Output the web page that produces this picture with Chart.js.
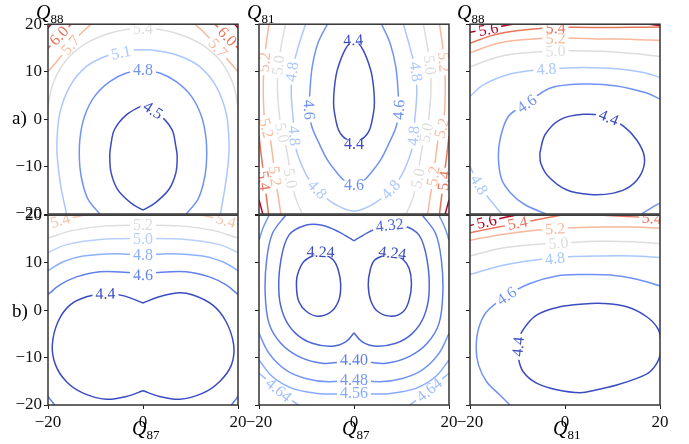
<!DOCTYPE html>
<html><head><meta charset="utf-8">
<script src="https://cdn.jsdelivr.net/npm/chart.js@4.4.1/dist/chart.umd.min.js"></script>
<style>
html,body{margin:0;padding:0;background:#fff;}
body{width:689px;height:444px;overflow:hidden;position:relative;font-family:'Liberation Serif',serif;}
canvas{position:absolute;}
.q{position:absolute;font-family:'Liberation Serif',serif;font-size:20px;line-height:20px;color:#000;white-space:nowrap;}
.q sub{font-size:13px;line-height:0;vertical-align:-4px;font-style:normal;}
.r{position:absolute;font-family:'Liberation Serif',serif;font-size:19px;line-height:19px;color:#000;}
</style></head><body>
<canvas id="c_a1"></canvas><canvas id="c_a2"></canvas><canvas id="c_a3"></canvas>
<canvas id="c_b1"></canvas><canvas id="c_b2"></canvas><canvas id="c_b3"></canvas>
<div class="q" style="left:36px;top:2px"><i>Q</i><sub>88</sub></div>
<div class="q" style="left:247px;top:2px"><i>Q</i><sub>81</sub></div>
<div class="q" style="left:457px;top:2px"><i>Q</i><sub>88</sub></div>
<div class="q" style="left:132px;top:418px"><i>Q</i><sub>87</sub></div>
<div class="q" style="left:342px;top:418px"><i>Q</i><sub>87</sub></div>
<div class="q" style="left:553px;top:418px"><i>Q</i><sub>81</sub></div>
<div class="r" style="left:12px;top:108px">a)</div>
<div class="r" style="left:12px;top:301px">b)</div>
<script>
// ---------------- DATA ----------------
const xTicks = [-20, 0, 20];
const yTicks = [-20, -10, 0, 10, 20];

// Panel a1 : Q87 (x) vs Q88 (y)
const a1_45L = [[0,3],[-3.5,0.9],[-6.0,-2.2],[-6.8,-5.7],[-7.0,-7.9],[-6.7,-11.4],[-5.3,-14.9],[-2.5,-17.7],[0,-19.2]];
const a1_45R = [[0,-19.2],[2.5,-17.7],[5.4,-14.9],[6.9,-11.4],[7.2,-7.9],[6.9,-5.7],[6.1,-2.2],[3.5,0.9],[0,3]];
const a1_48 = [[-9.1,-20],[-11.5,-17],[-12.6,-14],[-13.3,-10],[-13.3,-4.4],[-12.3,0.6],[-10.2,4.8],[-7.0,7.9],[-3.5,9.7],[0,10.3],[3.5,9.7],[7.0,7.9],[10.2,4.8],[12.3,0.6],[13.3,-4.4],[13.3,-10],[12.6,-14],[11.5,-17],[9.1,-20]];
const a1_51 = [[-16.1,-20],[-17.3,-14.2],[-18.0,-8.6],[-18.1,-4.4],[-17.5,1.3],[-15.4,6.9],[-11.9,11.1],[-7.7,13.3],[-3.5,14.3],[0,14.6],[3.5,14.3],[7.7,13.3],[11.9,11.1],[15.4,6.9],[17.5,1.3],[18.1,-4.4],[18.0,-8.6],[17.3,-14.2],[16.3,-20]];
const a1_54 = [[-20,2.7],[-18.9,7.6],[-16.1,12.5],[-11.9,16.0],[-7.0,18.1],[-3.5,18.9],[0,19.1],[3.5,18.9],[7.0,18.1],[11.9,16.0],[16.1,12.5],[18.9,7.6],[20,2.7]];
const a1_57L = [[-20,10.0],[-18.2,12.1],[-15.3,15.6],[-12.6,18.5],[-10.9,20]];
const a1_57R = [[10.9,20],[12.6,18.5],[15.3,15.6],[18.2,12.1],[20,10.0]];
const a1_60L = [[-20,14.9],[-17.7,17.6],[-15.1,20]];
const a1_60R = [[15.1,20],[17.7,17.6],[20,14.9]];
const a1_63L = [[-20,19.2],[-19.3,20]];
const a1_63R = [[19.3,20],[20,19.2]];
const a1_labels = [['6.0',-17.7,17.6],['5.7',-15.3,15.6],['5.4',0,19.1],['5.1',-4.6,14.0],['4.8',0,10.3],['4.5',2.2,2.0],['5.7',15.8,15.0],['6.0',17.7,17.4]];

// Panel a2 : Q87 (x) vs Q81 (y)
const a2_44L = [[0,17.2],[-1.9,14.6],[-3.5,10.4],[-4.1,6.9],[-4.3,3.5],[-4.1,1.3],[-3.3,-2.2],[-2.2,-3.8],[0,-5.2]];
const a2_44R = [[0,-5.2],[2.2,-3.8],[3.3,-2.2],[4.1,1.3],[4.3,3.5],[4.1,6.9],[3.5,10.4],[1.9,14.6],[0,17.2]];
const a2_46 = [[-5.6,20],[-7.6,16],[-8.8,11],[-9.3,5.5],[-9.4,2.0],[-8.9,-1.5],[-7.5,-4.8],[-5.6,-8.6],[-3.5,-11.4],[-2.0,-13.0],[0,-13.8],[2.0,-13.0],[3.5,-11.4],[5.6,-8.6],[7.5,-4.8],[8.9,-1.5],[9.4,2.0],[9.3,5.5],[8.8,11],[7.6,16],[5.8,20]];
const a2_48 = [[-10.2,20],[-11.8,15],[-13.0,10],[-13.2,5],[-12.8,0],[-12.3,-5.8],[-10.9,-10.0],[-9.3,-13.0],[-6.7,-15.9],[-3.9,-18.0],[0,-19.4],[3.9,-18.0],[6.7,-15.9],[9.3,-13.0],[10.9,-10.0],[12.3,-5.8],[12.8,0],[13.2,5],[13.0,10],[11.8,15],[10.4,20]];
const a2_50L = [[-14.4,20],[-15.4,15],[-16.0,10],[-16.1,6],[-15.6,0],[-14.6,-4.4],[-13.9,-8],[-13.3,-12],[-12.3,-16.6],[-10.9,-20]];
const a2_50R = [[14.6,20],[15.5,15],[16.1,10],[16.2,6],[15.7,0],[14.7,-4.4],[14.0,-8],[13.4,-12],[12.4,-16.6],[11.0,-20]];
const a2_52L = [[-17.9,20],[-18.6,15],[-19.0,10],[-19.1,6],[-18.8,0],[-17.6,-4.4],[-17.1,-8],[-16.6,-12],[-16.0,-16],[-15.4,-20]];
const a2_52R = [[18.0,20],[18.7,15],[19.1,10],[19.2,6],[18.9,0],[17.7,-4.4],[17.2,-8],[16.7,-12],[16.1,-16],[15.5,-20]];
const a2_54L = [[-20,-3.5],[-19.6,-7],[-19.1,-11],[-18.6,-15],[-18.0,-20]];
const a2_54R = [[20,-3.5],[19.6,-7],[19.1,-11],[18.6,-15],[18.0,-20]];
const a2_56L = [[-20,-17],[-19.2,-20]];
const a2_56R = [[20,-17],[19.2,-20]];
const a2_labels = [['4.4',0,16.6],['4.4',0,-5.2],['4.6',-9.4,2.0],['4.6',9.4,2.0],['4.6',0,-13.8],
  ['4.8',-13.2,10.0],['4.8',13.2,10.0],['4.8',-12.5,-3.5],['4.8',12.5,-3.5],['4.8',-7.7,-14.8],['4.8',7.7,-14.8],
  ['5.0',-16.1,11.4],['5.0',16.1,11.4],['5.0',-15.3,-2.9],['5.0',15.3,-2.9],['5.0',-13.5,-12.5],['5.0',13.5,-12.5],
  ['5.2',-19.0,12.0],['5.2',19.0,12.0],['5.2',-18.5,-1.9],['5.2',18.5,-1.9],['5.2',-16.6,-12.0],['5.2',16.6,-12.0],
  ['5.4',-19.0,-13.0],['5.4',19.0,-13.0]];

// Panel a3 : Q81 (x) vs Q88 (y)
const a3_44 = [[-5.3,-7.2],[-4.2,-3.3],[-1.0,-0.1],[3.9,1.0],[8.5,0.6],[12.3,-1.5],[15.1,-4.4],[16.7,-7.9],[16.1,-11.4],[13.7,-14.2],[10.2,-15.6],[5.3,-15.9],[0.3,-14.9],[-3.5,-12.1],[-5.1,-9.3],[-5.3,-7.2]];
const a3_46 = [[20,4.2],[17.2,5.5],[10.9,7.0],[3.9,7.4],[-3.2,6.5],[-8.1,3.2],[-11.9,0.6],[-13.7,-4.4],[-14.0,-8.6],[-13.3,-12.8],[-11.5,-15.5],[-8.5,-18],[-4.0,-20]];
const a3_46c = [[16.1,-20],[18.2,-18.7],[20,-17.7]];
const a3_48 = [[-20,4.8],[-17.2,7.2],[-11.6,9.5],[-5,10.5],[-1.0,10.7],[3.9,10.9],[10.9,10.6],[16.5,9.8],[20,8.8]];
const a3_48c = [[-20,-10],[-17.9,-14.2],[-15.8,-17],[-13.3,-20]];
const a3_50 = [[-20,11.0],[-13.7,13.2],[-6.7,14.1],[0,14.4],[7.4,14.3],[14.4,13.8],[20,13.2]];
const a3_52 = [[-20,14.0],[-13.7,16.1],[-6.7,16.9],[0,17.1],[7.4,16.9],[14.4,16.8],[20,16.6]];
const a3_54 = [[-20,16.0],[-15.1,17.7],[-10.2,18.6],[-4,19.2],[2,19.35],[7.4,19.3],[14,19.35],[20,19.4]];
const a3_56 = [[-20,18.3],[-16.1,19.1],[-11.0,20]];
const a3_56c = [[17.9,20],[20,19.7]];
const a3_labels = [['5.6',-16.1,18.8],['5.4',-2.0,19.2],['5.2',-2.0,17.0],['5.0',-2.0,14.4],['4.8',-3.9,10.6],['4.6',-8.1,3.3],['4.4',9.3,0.5],['4.8',-18.0,-13.8]];

// Panel b1 : Q87 (x) vs Q88 (y)
const b1_44R = [[0,1.5],[2.8,2.6],[7.0,3.6],[10.5,3.2],[14.7,1.05],[17.5,-2.45],[19.1,-7.4],[18.6,-11.6],[16.1,-15.1],[12.6,-17.5],[7.7,-18.8],[3.5,-18.2],[0,-17.0]];
const b1_44L = [[0,-17.0],[-3.5,-18.2],[-7.7,-18.8],[-12.6,-17.5],[-16.1,-15.1],[-18.4,-11.6],[-19.1,-7.4],[-17.9,-2.45],[-15.4,1.05],[-11.9,2.8],[-7.9,3.5],[-4.0,3.0],[0,1.5]];
const b1_46 = [[-20,3.3],[-17.5,5.3],[-14.0,7.0],[-9.1,8.1],[-3.0,7.9],[0,7.4],[3.0,7.9],[9.1,8.1],[14.0,7.0],[17.5,5.3],[20,3.3]];
const b1_46L = [[-20,-18.2],[-18.6,-20]];
const b1_46R = [[18.6,-20],[20,-18.2]];
const b1_48 = [[-20,8.3],[-16.8,10.2],[-12.6,11.4],[-5.6,11.9],[0,11.6],[5.6,11.9],[12.6,11.4],[16.8,10.2],[20,8.3]];
const b1_50 = [[-20,12.1],[-16.1,13.8],[-9.1,14.9],[0,15.1],[9.1,14.9],[16.1,13.8],[20,12.1]];
const b1_52 = [[-20,15.2],[-14.7,16.8],[-7.7,17.75],[0,17.9],[7.7,17.75],[14.7,16.8],[20,15.2]];
const b1_54L = [[-20,18.0],[-16,19.2],[-12.5,20]];
const b1_54R = [[12.5,20],[16,19.2],[20,18.0]];
const b1_labels = [['5.2',0,17.9],['5.0',0,15.1],['4.8',0,11.6],['4.6',0,7.5],['4.4',-7.9,3.5],['5.4',-17.5,19.0],['5.4',17.5,19.0]];

// Panel b2 : Q87 (x) vs Q81 (y)
const b2_424L = [[-7.0,12.3],[-10.5,10.3],[-11.9,7.4],[-12.1,4.6],[-11.6,1.75],[-10.0,-0.3],[-7.6,-1.3],[-4.9,-0.4],[-3.2,2.1],[-2.8,5.3],[-3.3,8.4],[-4.4,10.6],[-7.0,12.3]];
const b2_424R = [[8.1,12.1],[4.4,10.6],[3.4,8.4],[3.0,5.3],[3.5,2.1],[5.0,-0.3],[7.9,-1.3],[10.4,-0.3],[11.6,2.1],[12.1,5.6],[11.6,8.8],[10.4,10.6],[8.1,12.1]];
const b2_432L = [[0,14.6],[-3.2,16.5],[-6.7,17.9],[-10.2,17.9],[-13.7,15.8],[-15.4,10.5],[-15.8,3.5],[-14.7,-1.4],[-12.3,-4.9],[-8.8,-7.0],[-4.6,-7.6],[-1.75,-6.7],[0,-4.8]];
const b2_432R = [[0,-4.8],[1.75,-6.7],[4.6,-7.6],[8.8,-7.0],[12.3,-4.9],[14.7,-1.4],[15.8,3.5],[15.4,10.5],[13.7,15.8],[10.2,17.9],[6.7,17.9],[3.2,16.5],[0,14.6]];
const b2_440 = [[-14.4,20],[-17.2,16.1],[-18.4,10.5],[-18.7,3.5],[-17.9,-2.8],[-15.4,-7.0],[-11.6,-9.8],[-6.7,-11.2],[-2.5,-10.9],[0,-10.3],[2.5,-10.9],[6.7,-11.2],[11.6,-9.8],[15.4,-7.0],[17.9,-2.8],[18.7,3.5],[18.4,10.5],[17.2,16.1],[14.4,20]];
const b2_448L = [[-17.9,20],[-19.2,17.2],[-20,14.7]];
const b2_448R = [[17.9,20],[19.2,17.2],[20,14.7]];
const b2_448 = [[-20,-4.9],[-17.9,-9.1],[-14.4,-12.6],[-10.2,-14.4],[-5.3,-15.1],[0,-14.6],[5.3,-15.1],[10.2,-14.4],[14.4,-12.6],[17.9,-9.1],[20,-4.9]];
const b2_456 = [[-20,-10.5],[-17.2,-14.0],[-13.0,-16.5],[-8.1,-17.5],[-3.2,-17.7],[0,-17.4],[3.2,-17.7],[8.1,-17.5],[13.0,-16.5],[17.2,-14.0],[20,-10.5]];
const b2_464L = [[-20,-13.3],[-15.8,-16.8],[-12.3,-19.6],[-11.6,-20]];
const b2_464R = [[11.6,-20],[12.3,-19.6],[15.8,-16.8],[20,-13.3]];
const b2_labels = [['4.24',-7.0,12.3],['4.24',8.1,12.1],['4.32',7.5,18.0],['4.40',0,-10.5],['4.48',0,-14.7],['4.56',0,-17.5],['4.64',-15.8,-16.8],['4.64',15.8,-16.8]];

// Panel b3 : Q81 (x) vs Q88 (y)
const b3_44 = [[-9.9,-7.5],[-9.1,-4.6],[-6.0,-1.05],[-1.05,0.7],[3.9,1.3],[8.1,1.4],[13.0,0.7],[17.2,-1.4],[19.6,-4.0],[20.2,-7.0],[19.8,-10.2],[17.9,-13.0],[15.1,-14.4],[10.9,-15.8],[6.7,-16.8],[3.2,-17.4],[-1.75,-16.8],[-6.0,-15.4],[-8.8,-13.0],[-9.8,-10.2],[-9.9,-7.5]];
const b3_46 = [[20,5.1],[15.1,6.5],[9.5,7.4],[3.9,7.5],[-1.75,7.2],[-7.4,5.6],[-12.3,3.0],[-16.5,-0.35],[-18.2,-3.9],[-18.7,-8.1],[-18.2,-11.6],[-16.5,-15.1],[-13.7,-17.9],[-11.6,-20]];
const b3_48 = [[-20,7.5],[-13.7,9.3],[-6.7,10.5],[0.35,11.2],[7.4,11.4],[14.4,11.4],[20,11.1]];
const b3_50 = [[-20,11.4],[-13.7,13.0],[-6.7,13.8],[0,14.2],[7.4,14.5],[14.4,14.4],[20,14.0]];
const b3_52 = [[-20,14.7],[-13.7,15.9],[-6.7,16.8],[0,17.3],[7.4,17.5],[14.4,17.5],[20,17.3]];
const b3_54 = [[-20,16.3],[-15.1,17.3],[-9.8,18.3],[-6.7,18.9],[-3.5,19.5],[-1.0,20]];
const b3_54c = [[8,20],[14,19.7],[20,19.2]];
const b3_56 = [[-20,17.8],[-16.5,18.7],[-12.3,19.6],[-10.5,20]];
const b3_labels = [['5.6',-16.5,18.6],['5.4',-10.0,18.4],['5.2',-2.1,17.2],['5.0',-1.4,14.2],['4.8',-2.1,10.9],['4.6',-12.3,3.0],['4.4',-9.9,-7.7],['5.4',18.3,19.4]];

// contour pieces per panel (level, piece)
const a1_lines = [['4.5',a1_45L],['4.5',a1_45R],['4.8',a1_48],['5.1',a1_51],['5.4',a1_54],['5.7',a1_57L],['5.7',a1_57R],['6.0',a1_60L],['6.0',a1_60R],['6.3',a1_63L],['6.3',a1_63R]];
const a2_lines = [['4.4',a2_44L],['4.4',a2_44R],['4.6',a2_46],['4.8',a2_48],['5.0',a2_50L],['5.0',a2_50R],['5.2',a2_52L],['5.2',a2_52R],['5.4',a2_54L],['5.4',a2_54R],['5.6',a2_56L],['5.6',a2_56R]];
const a3_lines = [['4.4',a3_44],['4.6',a3_46],['4.6',a3_46c],['4.8',a3_48],['4.8',a3_48c],['5.0',a3_50],['5.2',a3_52],['5.4',a3_54],['5.6',a3_56],['5.6',a3_56c]];
const b1_lines = [['4.4',b1_44R],['4.4',b1_44L],['4.6',b1_46],['4.6',b1_46L],['4.6',b1_46R],['4.8',b1_48],['5.0',b1_50],['5.2',b1_52],['5.4',b1_54L],['5.4',b1_54R]];
const b2_lines = [['4.24',b2_424L],['4.24',b2_424R],['4.32',b2_432L],['4.32',b2_432R],['4.40',b2_440],['4.48',b2_448L],['4.48',b2_448R],['4.48',b2_448],['4.56',b2_456],['4.64',b2_464L],['4.64',b2_464R]];
const b3_lines = [['4.4',b3_44],['4.6',b3_46],['4.8',b3_48],['5.0',b3_50],['5.2',b3_52],['5.4',b3_54],['5.4',b3_54c],['5.6',b3_56]];

// ---------------- STYLE / LAYOUT ----------------
const CW = [[59,76,192],[68,90,204],[77,104,215],[87,117,225],[98,130,234],[108,142,241],[119,154,247],[130,165,251],[141,176,254],[152,185,255],[163,194,255],[174,201,253],[184,208,249],[194,213,244],[204,217,238],[213,219,230],[221,221,221],[229,216,209],[236,211,197],[241,204,185],[245,196,173],[247,187,160],[247,177,148],[247,166,135],[244,154,123],[241,141,111],[236,127,99],[229,112,88],[222,96,77],[213,80,66],[203,62,56],[192,40,47],[180,4,38]];
function cmap(t){t=Math.max(0,Math.min(1,t));const p=t*32,i=Math.min(31,Math.floor(p)),f=p-i,a=CW[i],b=CW[i+1];
  return 'rgb('+[0,1,2].map(k=>Math.round(a[k]+(b[k]-a[k])*f)).join(',')+')';}
const PANEL_W = 190, PANEL_H = 190;
const colLeft = [48, 259, 470];
const rowTop = [24, 215];
const ML = 45, MR = 15, MT = 12;
const MB = [14, 40];
const FONT = "'Liberation Serif', serif";
const fmt = v => (v < 0 ? '\u2212' + Math.abs(v) : String(v));

function labelPlugin(labels){
  return {
    id:'contourLabels',
    afterDatasetsDraw(chart){
      const {ctx, chartArea:a, scales:{x, y}} = chart;
      ctx.save();
      ctx.beginPath(); ctx.rect(a.left, a.top, a.right-a.left, a.bottom-a.top); ctx.clip();
      ctx.font = '16px ' + FONT; ctx.textAlign = 'center'; ctx.textBaseline = 'middle';
      for (const [txt, lx, ly] of labels){
        const px = x.getPixelForValue(lx), py = y.getPixelForValue(ly);
        const segs = [];
        let color = '#000';
        chart.data.datasets.forEach(ds => {
          if (ds.level !== txt) return;
          color = ds.borderColor;
          const d = ds.data;
          for (let i = 0; i < d.length-1; i++){
            segs.push([x.getPixelForValue(d[i].x), y.getPixelForValue(d[i].y),
                       x.getPixelForValue(d[i+1].x), y.getPixelForValue(d[i+1].y)]);
          }
        });
        let best = null;
        for (const [x1,y1,x2,y2] of segs){
          const dx = x2-x1, dy = y2-y1, L2 = dx*dx+dy*dy || 1;
          let t = ((px-x1)*dx + (py-y1)*dy)/L2; t = Math.max(0, Math.min(1, t));
          const qx = x1+t*dx, qy = y1+t*dy, dist = (qx-px)**2 + (qy-py)**2;
          if (!best || dist < best.dist) best = {dist, qx, qy, ang: Math.atan2(dy, dx)};
        }
        if (!best) continue;
        const w = ctx.measureText(txt).width;
        // orientation: chord between the curve's crossings of a circle around the label
        const cx = (best.qx + px)/2, cy = (best.qy + py)/2;
        const r = w/2, hits = [];
        for (const [x1,y1,x2,y2] of segs){
          const dx = x2-x1, dy = y2-y1, fx = x1-cx, fy = y1-cy;
          const A = dx*dx+dy*dy, B = 2*(fx*dx+fy*dy), C = fx*fx+fy*fy-r*r;
          const disc = B*B-4*A*C;
          if (A === 0 || disc < 0) continue;
          const s = Math.sqrt(disc);
          for (const t of [(-B-s)/(2*A), (-B+s)/(2*A)]) if (t >= 0 && t <= 1) hits.push([x1+t*dx, y1+t*dy]);
        }
        let ang = best.ang, maxd = 0;
        for (let i = 0; i < hits.length; i++) for (let j = i+1; j < hits.length; j++){
          const dd = (hits[i][0]-hits[j][0])**2 + (hits[i][1]-hits[j][1])**2;
          if (dd > maxd){ maxd = dd; ang = Math.atan2(hits[j][1]-hits[i][1], hits[j][0]-hits[i][0]); }
        }
        if (maxd < (r*0.5)**2) ang = best.ang;
        if (ang > Math.PI/2) ang -= Math.PI;
        if (ang < -Math.PI/2) ang += Math.PI;
        ctx.save();
        ctx.translate(cx, cy); ctx.rotate(ang);
        ctx.fillStyle = '#fff'; ctx.fillRect(-w/2-3, -4, w+6, 8);
        ctx.fillStyle = color; ctx.fillText(txt, 0, 1);
        ctx.restore();
      }
      ctx.restore();
    },
    afterDraw(chart){
      const {ctx, chartArea:a} = chart;
      ctx.save(); ctx.strokeStyle = '#333'; ctx.lineWidth = 1.5;
      ctx.strokeRect(a.left, a.top, a.right-a.left, a.bottom-a.top);
      ctx.restore();
    }
  };
}

function makePanel(id, col, row, lines, labels, norm){
  const cv = document.getElementById(id);
  const W = ML + PANEL_W + MR, H = MT + PANEL_H + MB[row];
  cv.width = W; cv.height = H;
  cv.style.width = W+'px'; cv.style.height = H+'px';
  cv.style.left = (colLeft[col]-ML)+'px'; cv.style.top = (rowTop[row]-MT)+'px';
  const datasets = lines.map(([lev, pts]) => ({
    level: lev,
    data: pts.map(p => ({x:p[0], y:p[1]})),
    showLine: true, fill: false,
    borderColor: cmap((parseFloat(lev)-norm[0])/(norm[1]-norm[0])),
    borderWidth: 1.5, pointRadius: 0, pointHoverRadius: 0,
    tension: 0.35, clip: 0
  }));
  new Chart(cv, {
    type: 'scatter',
    data: {datasets},
    options: {
      responsive: false, animation: false, devicePixelRatio: 1, events: [],
      layout: {padding: {left:0, right:MR, top:MT, bottom:0}},
      plugins: {legend:{display:false}, tooltip:{enabled:false}, title:{display:false}},
      scales: {
        x: {type:'linear', min:-20, max:20,
            afterBuildTicks: s => { s.ticks = xTicks.map(v => ({value:v})); },
            afterFit: s => { s.height = MB[row]; },
            border:{display:false},
            grid:{display: row===1, drawOnChartArea:false, drawTicks:true, tickLength:4, color:'#222', lineWidth:1},
            ticks:{padding:3, color:'#111', font:{family:FONT, size:17}, maxRotation:0, autoSkip:false,
                   callback: v => row===1 ? fmt(v) : ''}},
        y: {type:'linear', min:-20, max:20,
            afterBuildTicks: s => { s.ticks = yTicks.map(v => ({value:v})); },
            afterFit: s => { s.width = ML; },
            border:{display:false},
            grid:{display:true, drawOnChartArea:false, drawTicks:true, tickLength:4, color:'#222', lineWidth:1},
            ticks:{padding:2, color:'#111', font:{family:FONT, size:17}, autoSkip:false,
                   callback: v => col===0 ? fmt(v) : ''}}
      }
    },
    plugins: [labelPlugin(labels)]
  });
}

makePanel('c_a1', 0, 0, a1_lines, a1_labels, [4.5, 6.3]);
makePanel('c_a2', 1, 0, a2_lines, a2_labels, [4.4, 5.6]);
makePanel('c_a3', 2, 0, a3_lines, a3_labels, [4.4, 5.6]);
makePanel('c_b1', 0, 1, b1_lines, b1_labels, [4.4, 6.0]);
makePanel('c_b2', 1, 1, b2_lines, b2_labels, [4.24, 5.6]);
makePanel('c_b3', 2, 1, b3_lines, b3_labels, [4.4, 5.6]);
</script>
</body></html>
